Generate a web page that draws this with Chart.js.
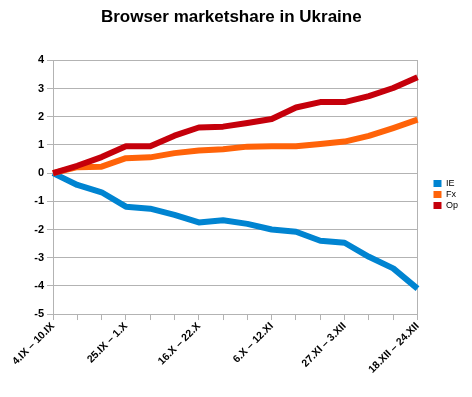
<!DOCTYPE html>
<html>
<head>
<meta charset="utf-8">
<script src="https://cdn.jsdelivr.net/npm/chart.js@4/dist/chart.umd.min.js"></script>
<style>
  html, body { margin: 0; padding: 0; background: #fff; }
  #wrap { width: 472px; height: 397px; }
</style>
</head>
<body>
<div id="wrap"><canvas id="chart" width="472" height="397"></canvas></div>
<script>
// weekly periods
const weeks = [
    '4.IX – 10.IX', '11.IX – 17.IX', '18.IX – 24.IX', '25.IX – 1.X',
    '2.X – 8.X', '9.X – 15.X', '16.X – 22.X', '23.X – 29.X',
    '30.X – 5.XI', '6.X – 12.XI', '13.XI – 19.XI', '20.XI – 26.XI',
    '27.XI – 3.XII', '4.XII – 10.XII', '11.XII – 17.XII', '18.XII – 24.XII'
];

// change in share, percentage points
const ieValues = [0, -0.42, -0.68, -1.19, -1.26, -1.48, -1.75, -1.67, -1.8, -2.0, -2.08, -2.4, -2.47, -2.97, -3.38, -4.1];
const fxValues = [0, 0.21, 0.23, 0.53, 0.56, 0.71, 0.8, 0.85, 0.94, 0.95, 0.95, 1.03, 1.12, 1.32, 1.6, 1.9];
const opValues = [0, 0.26, 0.57, 0.95, 0.95, 1.33, 1.62, 1.65, 1.78, 1.92, 2.33, 2.52, 2.52, 2.73, 3.02, 3.4];

const yTicks = [-5, -4, -3, -2, -1, 0, 1, 2, 3, 4];

const gridColor = '#b3b3b3';

Chart.defaults.font.family = '"Liberation Sans", Arial, sans-serif';
Chart.defaults.color = '#000';

const defaultLabels = Chart.defaults.plugins.legend.labels.generateLabels;

new Chart(document.getElementById('chart'), {
    type: 'line',
    data: {
        labels: weeks,
        datasets: [
            { label: 'IE', data: ieValues, borderColor: '#0084d1', backgroundColor: '#0084d1', order: 2 },
            { label: 'Fx', data: fxValues, borderColor: '#ff6309', backgroundColor: '#ff6309', order: 1 },
            { label: 'Op', data: opValues, borderColor: '#c5000b', backgroundColor: '#c5000b', order: 0 }
        ]
    },
    options: {
        responsive: false,
        animation: false,
        layout: { padding: { left: 4, right: 4, top: 0, bottom: 21 } },
        elements: {
            line: { borderWidth: 6, tension: 0, borderJoinStyle: 'round' },
            point: { radius: 0 }
        },
        plugins: {
            title: {
                display: true,
                // trailing nbsp nudges the title a little left, like the original
                text: 'Browser marketshare in Ukraine\u00a0\u00a0',
                font: { size: 17, weight: 'bold' },
                color: '#000',
                padding: { top: 7, bottom: 33 }
            },
            legend: {
                position: 'right',
                title: { display: true, text: ' ', font: { size: 4 }, padding: 4 },
                labels: {
                    boxWidth: 8,
                    boxHeight: 7,
                    padding: 2,
                    font: { size: 9 },
                    sort: (a, b) => a.datasetIndex - b.datasetIndex,
                    generateLabels: chart => defaultLabels(chart).map(l => ({ ...l, lineWidth: 0 }))
                }
            },
            tooltip: { enabled: false }
        },
        scales: {
            x: {
                offset: false,
                grid: { drawOnChartArea: false, drawTicks: true, tickLength: 6, color: gridColor },
                border: { color: gridColor },
                ticks: {
                    autoSkip: false,
                    maxRotation: 45,
                    minRotation: 45,
                    padding: 0,
                    font: { size: 10.5, weight: 'bold' },
                    callback: (v, i) => (i % 3 === 0 ? weeks[i] : '')
                }
            },
            y: {
                min: yTicks[0],
                max: yTicks[yTicks.length - 1],
                afterBuildTicks: s => { s.ticks = yTicks.map(v => ({ value: v })); },
                afterFit: s => { s.width = 49; },
                grid: { color: gridColor, tickLength: 6 },
                border: { color: gridColor },
                ticks: { padding: 3, font: { size: 11, weight: 'bold' } }
            },
            // plain right-hand frame line, also keeps the legend off the plot
            yRight: {
                position: 'right',
                min: yTicks[0],
                max: yTicks[yTicks.length - 1],
                afterFit: s => { s.width = 14; },
                grid: { drawOnChartArea: false, drawTicks: false },
                border: { color: gridColor },
                ticks: { display: false }
            }
        }
    }
});
</script>
</body>
</html>
